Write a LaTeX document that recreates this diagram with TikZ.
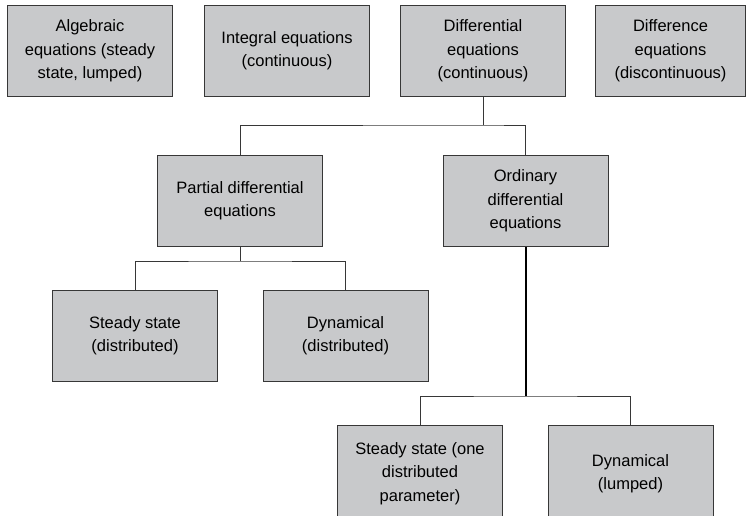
\documentclass[tikz,border=0pt]{standalone}
\usepackage{fontspec}
\setmainfont{Liberation Sans}
\usetikzlibrary{positioning}
\definecolor{boxgray}{RGB}{200,201,203}
\definecolor{edgegray}{RGB}{55,55,55}
\tikzset{eqbox/.style={draw=edgegray,fill=boxgray,line width=1pt,minimum width=165pt,
minimum height=91pt,align=center,inner sep=2pt,font=\fontsize{16.5}{23.3}\selectfont}}
\tikzset{ln/.style={draw=edgegray,line width=1pt}}
\tikzset{lnb/.style={draw=black,line width=2pt}}

\begin{document}
\begin{tikzpicture}[x=1pt,y=1pt]
\useasboundingbox (0,0) rectangle (750,-515);
% top row
\node [eqbox, anchor=north west] (alg) at (7,-5) {Algebraic\\equations (steady\\state, lumped)};
\node [eqbox, right=31pt of alg] (integ) {Integral equations\\(continuous)};
\node [eqbox, right=30pt of integ] (diffe) {Differential\\equations\\(continuous)};
\node [eqbox, minimum width=150pt, right=29pt of diffe] (disc) {Difference\\equations\\(discontinuous)};

\node [eqbox] (pde) at (240,-201) {Partial differential\\equations};
\node [eqbox] (ode) at (525.5,-201) {Ordinary\\differential\\equations};

\node [eqbox] (ssd) at (135,-336) {Steady state\\(distributed)};
\node [eqbox] (dyd) at (345.5,-336) {Dynamical\\(distributed)};
\node [eqbox, minimum height=96pt, anchor=north] (sso) at (420,-425) {Steady state (one\\distributed\\parameter)};
\node [eqbox, minimum height=96pt, anchor=north] (dyl) at (630.5,-425) {Dynamical\\(lumped)};

% tree lines
\draw [ln] (diffe.south) -- (diffe.south |- 0,-125) coordinate (ja);
\draw [ln] (pde.north) |- (ja) -| (ode.north);
\draw [ln] (pde.south) -- (pde.south |- 0,-261) coordinate (jb);
\draw [ln] (ssd.north) |- (jb) -| (dyd.north);
\draw [lnb] (ode.south) -- (ode.south |- 0,-396) coordinate (jc);
\draw [ln] (sso.north) |- (jc) -| (dyl.north);
\end{tikzpicture}
\end{document}
